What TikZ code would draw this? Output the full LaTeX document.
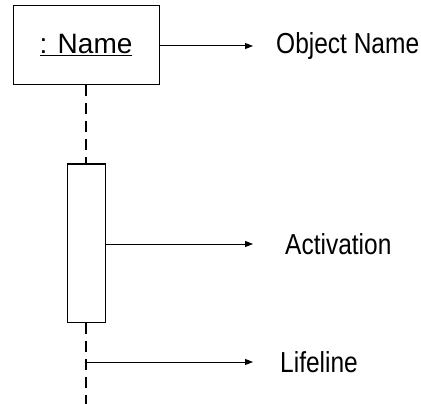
\documentclass[tikz,border=0pt]{standalone}
\usepackage{fontspec}
\setmainfont{Liberation Sans}
\usetikzlibrary{positioning,arrows.meta}
\newcommand{\tallword}[1]{\scalebox{1}[1.18]{#1}}

\begin{document}
\begin{tikzpicture}[x=1pt,y=-1pt,
  lbl/.style={font=\fontsize{24.5}{28}\selectfont, inner sep=0pt},
  ptr/.style={-{Triangle[length=8pt,width=6pt]}, line width=1pt},
  life/.style={dash pattern=on 11pt off 7pt, line width=1.2pt}]
  \useasboundingbox (0,0) rectangle (421,404);
  \node (obj) [draw, line width=1pt, minimum width=146pt, minimum height=79pt,
    font=\fontsize{28}{32}\selectfont] at (86,45.5) {\underline{: Name}};
  \node (act) [draw, line width=1pt, minimum width=38pt, minimum height=158pt,
    inner sep=0pt] at (86,243) {};
  \coordinate (end) at (86,404);
  \coordinate (hook) at (86,362);
  \coordinate (tipobj) at (253,46);
  \coordinate (tipact) at (253,244);
  \coordinate (tiplife) at (253,362);
  \node (lobj) [lbl, right=23pt of tipobj] {\tallword{Object Name}};
  \node (lact) [lbl, right=32pt of tipact] {\tallword{Activation}};
  \node (llife) [lbl, right=27pt of tiplife] {\tallword{Lifeline}};
  \draw[life] (obj.south) -- (act.north);
  \draw[life] (act.south) -- (end);
  \draw[ptr] (obj.east |- tipobj) -- (tipobj);
  \draw[ptr] (act.east |- tipact) -- (tipact);
  \draw[ptr] (hook) -- (tiplife);
\end{tikzpicture}
\end{document}
